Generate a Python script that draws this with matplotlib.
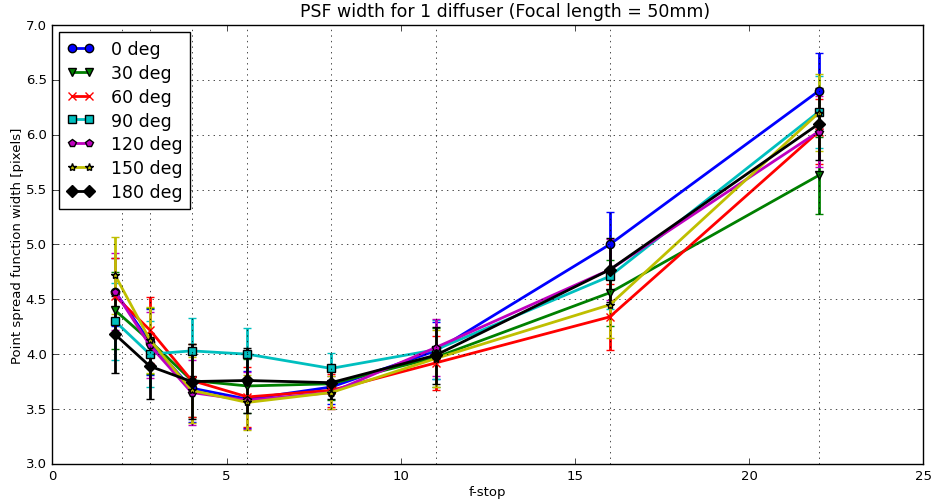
import matplotlib
matplotlib.use("Agg")
import matplotlib.pyplot as plt
from matplotlib.ticker import FixedLocator, MultipleLocator, FormatStrFormatter

plt.style.use("classic")

# f-stops
fstops = [1.8, 2.8, 4, 5.6, 8, 11, 16, 22]
grid_stops = [2, 2.8, 4, 5.6, 8, 11, 16, 22]

# gemiddelde PSF breedte per hoek
deg0 = [4.57, 4.11, 3.69, 3.59, 3.70, 4.03, 5.00, 6.40]
deg30 = [4.40, 4.12, 3.76, 3.71, 3.73, 3.97, 4.56, 5.63]
deg60 = [4.53, 4.22, 3.76, 3.61, 3.67, 3.92, 4.34, 6.03]
deg90 = [4.30, 4.00, 4.03, 4.00, 3.87, 4.04, 4.71, 6.21]
deg120 = [4.57, 4.08, 3.65, 3.58, 3.65, 4.06, 4.77, 6.03]
deg150 = [4.72, 4.13, 3.67, 3.56, 3.65, 3.96, 4.45, 6.20]
deg180 = [4.18, 3.89, 3.75, 3.76, 3.74, 3.99, 4.77, 6.10]

# standaard deviatie
err0 = [0.31, 0.30, 0.31, 0.26, 0.15, 0.26, 0.30, 0.35]
err30 = [0.35, 0.30, 0.33, 0.25, 0.15, 0.27, 0.30, 0.35]
err60 = [0.35, 0.30, 0.33, 0.27, 0.15, 0.25, 0.30, 0.30]
err90 = [0.35, 0.30, 0.30, 0.24, 0.14, 0.27, 0.30, 0.33]
err120 = [0.35, 0.30, 0.30, 0.26, 0.15, 0.26, 0.28, 0.32]
err150 = [0.35, 0.30, 0.30, 0.25, 0.15, 0.26, 0.30, 0.35]
err180 = [0.35, 0.30, 0.34, 0.30, 0.15, 0.26, 0.29, 0.33]

series = [
    ("0 deg", deg0, err0, "b", "o"),
    ("30 deg", deg30, err30, "g", "v"),
    ("60 deg", deg60, err60, "r", "x"),
    ("90 deg", deg90, err90, "c", "s"),
    ("120 deg", deg120, err120, "m", "p"),
    ("150 deg", deg150, err150, "y", "*"),
    ("180 deg", deg180, err180, "k", "D"),
]

fig = plt.figure(figsize=(9.35, 5.02), dpi=100, facecolor="white")
ax = fig.add_axes([0.056, 0.074, 0.9315, 0.874])

handles = []
for label, vals, errs, color, marker in series:
    cont = ax.errorbar(fstops, vals, yerr=errs, color=color, marker=marker,
                       linewidth=2, markersize=6, elinewidth=2, capsize=3,
                       capthick=1.5,
                       markeredgecolor="k" if marker != "x" else color,
                       markeredgewidth=1, label=label)
    handles.append(cont[0])

ax.set_xlim(0, 25)
ax.set_ylim(3.0, 7.0)
ax.xaxis.set_major_locator(MultipleLocator(5))
ax.xaxis.set_minor_locator(FixedLocator(grid_stops))
ax.yaxis.set_major_locator(MultipleLocator(0.5))
ax.yaxis.set_minor_locator(FixedLocator([]))
ax.grid(False)
ax.xaxis.grid(True, which="minor", linestyle=":", color="k")
ax.yaxis.grid(True, which="major", linestyle=":", color="k")
ax.tick_params(which="minor", length=0)
ax.tick_params(which="major", labelsize=9.5)
ax.yaxis.set_major_formatter(FormatStrFormatter("%.1f"))

ax.set_title("PSF width for 1 diffuser (Focal length = 50mm)", fontsize=12.5,
             x=0.52, y=1.005)
ax.set_xlabel("f-stop", fontsize=9.5, labelpad=2)
ax.set_ylabel("Point spread function width [pixels]", fontsize=9.5, labelpad=1)

ax.legend(handles, [s[0] for s in series], loc="upper left", fontsize=12.5,
          numpoints=2, borderaxespad=0.4, labelspacing=0.34,
          handlelength=1.55, handletextpad=0.95, borderpad=0.45)

fig.savefig("out.png", dpi=100)
